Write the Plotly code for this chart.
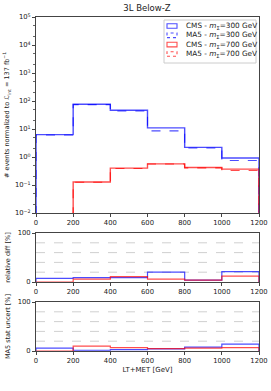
import plotly.graph_objects as go

# ---- data ----
bin_edges = [0, 200, 400, 600, 800, 1000, 1200]
cms_300 = [6.3, 77, 47, 11.0, 2.2, 0.92]
ma5_300 = [6.1, 74, 44, 8.6, 2.1, 0.75]
cms_700 = [0, 0.128, 0.40, 0.57, 0.42, 0.37]
ma5_700 = [0, 0.126, 0.39, 0.56, 0.41, 0.33]

reldiff_300 = [7.5, 9, 9, 20, 4, 21]
reldiff_700 = [0, 6, 11, 6, 4, 12]
stat_300 = [6, 1.5, 3, 4.5, 8, 14]
stat_700 = [0, 10, 7, 5, 6, 7]

x_ticks = [0, 200, 400, 600, 800, 1000, 1200]
log_exponents = [-2, -1, 0, 1, 2, 3, 4, 5]
grid_pct = [20, 40, 60, 80]
title_text = "3L Below-Z"
legend_names = ["CMS - <i>m</i><sub>Σ</sub>=300 GeV", "MA5 - <i>m</i><sub>Σ</sub>=300 GeV",
                "CMS - <i>m</i><sub>Σ</sub>=700 GeV", "MA5 - <i>m</i><sub>Σ</sub>=700 GeV"]

BLUE = "rgba(0,0,255,0.7)"
RED = "rgba(255,0,0,0.7)"
FLOOR_LOG = 1e-4

W, H = 271, 391
L, R, T, B = 36, 12, 17, 40
PW, PH = W - L - R, H - T - B


def px_x(px):
    return (px - L) / PW


def px_y(py):
    return (H - B - py) / PH


def step(values, floor):
    v = [floor if (val is None or val <= 0) else val for val in values]
    xs = [bin_edges[0]] + bin_edges[:-1] + [bin_edges[-1], bin_edges[-1]]
    ys = [floor] + v + [v[-1], floor]
    return xs, ys


fig = go.Figure()

styles = [(BLUE, "solid", 1.4), (BLUE, "dash", 1.1), (RED, "solid", 1.4), (RED, "dash", 1.1)]
for vals, (col, dash, w), name in zip([cms_300, ma5_300, cms_700, ma5_700], styles, legend_names):
    xs, ys = step(vals, FLOOR_LOG)
    fig.add_trace(go.Scatter(
        x=xs, y=ys, mode="lines", line=dict(color=col, dash=dash, width=w, shape="hv"),
        name=name, showlegend=False, xaxis="x", yaxis="y", hoverinfo="skip"))

for vals, col, ax in [(reldiff_300, BLUE, "2"), (reldiff_700, RED, "2"),
                      (stat_300, BLUE, "3"), (stat_700, RED, "3")]:
    xs, ys = step(vals, 0)
    fig.add_trace(go.Scatter(
        x=xs, y=ys, mode="lines", line=dict(color=col, width=1.2, shape="hv"),
        showlegend=False, xaxis="x" + ax, yaxis="y" + ax, hoverinfo="skip"))

FONT = "DejaVu Sans"
axis_common = dict(
    showline=True, linecolor="#444", linewidth=1, mirror=True,
    ticks="outside", ticklen=3, tickcolor="#444", tickfont=dict(size=6.8, color="#222"),
    showgrid=False, zeroline=False, automargin=False,
)

xcommon = dict(axis_common, range=[0, 1200], tickvals=x_ticks)

y1_dom = [px_y(213), 1.0]
y2_dom = [px_y(282), px_y(233)]
y3_dom = [0.0, px_y(302)]

shapes = []
annotations = []
for yref in ["y2", "y3"]:
    for g in grid_pct:
        shapes.append(dict(type="line", xref="x domain", yref=yref, x0=0, x1=1, y0=g, y1=g,
                           line=dict(color="#bbbbbb", width=0.7, dash="dash"), layer="below"))

# legend box
shapes.append(dict(type="rect", xref="paper", yref="paper",
                   x0=px_x(164), x1=px_x(256), y0=px_y(63), y1=px_y(20),
                   line=dict(color="#cccccc", width=1), fillcolor="rgba(255,255,255,0.85)"))
row_y = [26, 35.3, 44.6, 54]
for (col, dash, w), name, ry in zip(styles, legend_names, row_y):
    shapes.append(dict(type="rect", xref="paper", yref="paper",
                       x0=px_x(167), x1=px_x(177), y0=px_y(ry + 2.3), y1=px_y(ry - 2.3),
                       line=dict(color=col, width=1.1, dash="dot" if dash == "dash" else "solid"),
                       fillcolor="rgba(0,0,0,0)"))
    annotations.append(dict(text=name, xref="paper", yref="paper", x=px_x(184), y=px_y(ry),
                            xanchor="left", yanchor="middle", showarrow=False,
                            font=dict(size=7.3, color="#222")))

fig.update_layout(
    width=W, height=H,
    margin=dict(l=L, r=R, t=T, b=B),
    paper_bgcolor="white", plot_bgcolor="white",
    font=dict(family=FONT, size=8, color="#222"),
    title=dict(text=title_text, x=px_x(147), xanchor="center", xref="paper",
               y=1 - 8.5 / H, yanchor="middle", font=dict(size=8.5, color="#222")),
    showlegend=False,
    shapes=shapes, annotations=annotations,
    xaxis=dict(xcommon, domain=[0, 1], anchor="y"),
    yaxis=dict(axis_common, type="log", range=[-2, 5],
               tickvals=[10 ** e for e in log_exponents],
               ticktext=["10<sup>%s</sup>" % (str(e).replace("-", "−")) for e in log_exponents],
               domain=y1_dom, anchor="x",
               minor=dict(ticks="outside", ticklen=2, tickcolor="#666"),
               title=dict(text="# events normalized to <i>ℒ</i><sub>int</sub> = 137 fb<sup>−1</sup>",
                          font=dict(size=6.5), standoff=4)),
    xaxis2=dict(xcommon, domain=[0, 1], anchor="y2"),
    yaxis2=dict(axis_common, range=[0, 100], tickvals=[0, 100], domain=y2_dom, anchor="x2",
                title=dict(text="relative diff [%]", font=dict(size=6.5), standoff=6)),
    xaxis3=dict(xcommon, domain=[0, 1], anchor="y3",
                title=dict(text="LT+MET [GeV]", font=dict(size=7), standoff=2)),
    yaxis3=dict(axis_common, range=[0, 100], tickvals=[0, 100], domain=y3_dom, anchor="x3",
                title=dict(text="MA5 stat uncert [%]", font=dict(size=6.5), standoff=6)),
)

fig.write_html("out.html", config={"displayModeBar": False},
               post_script="document.body.style.margin='0';")
